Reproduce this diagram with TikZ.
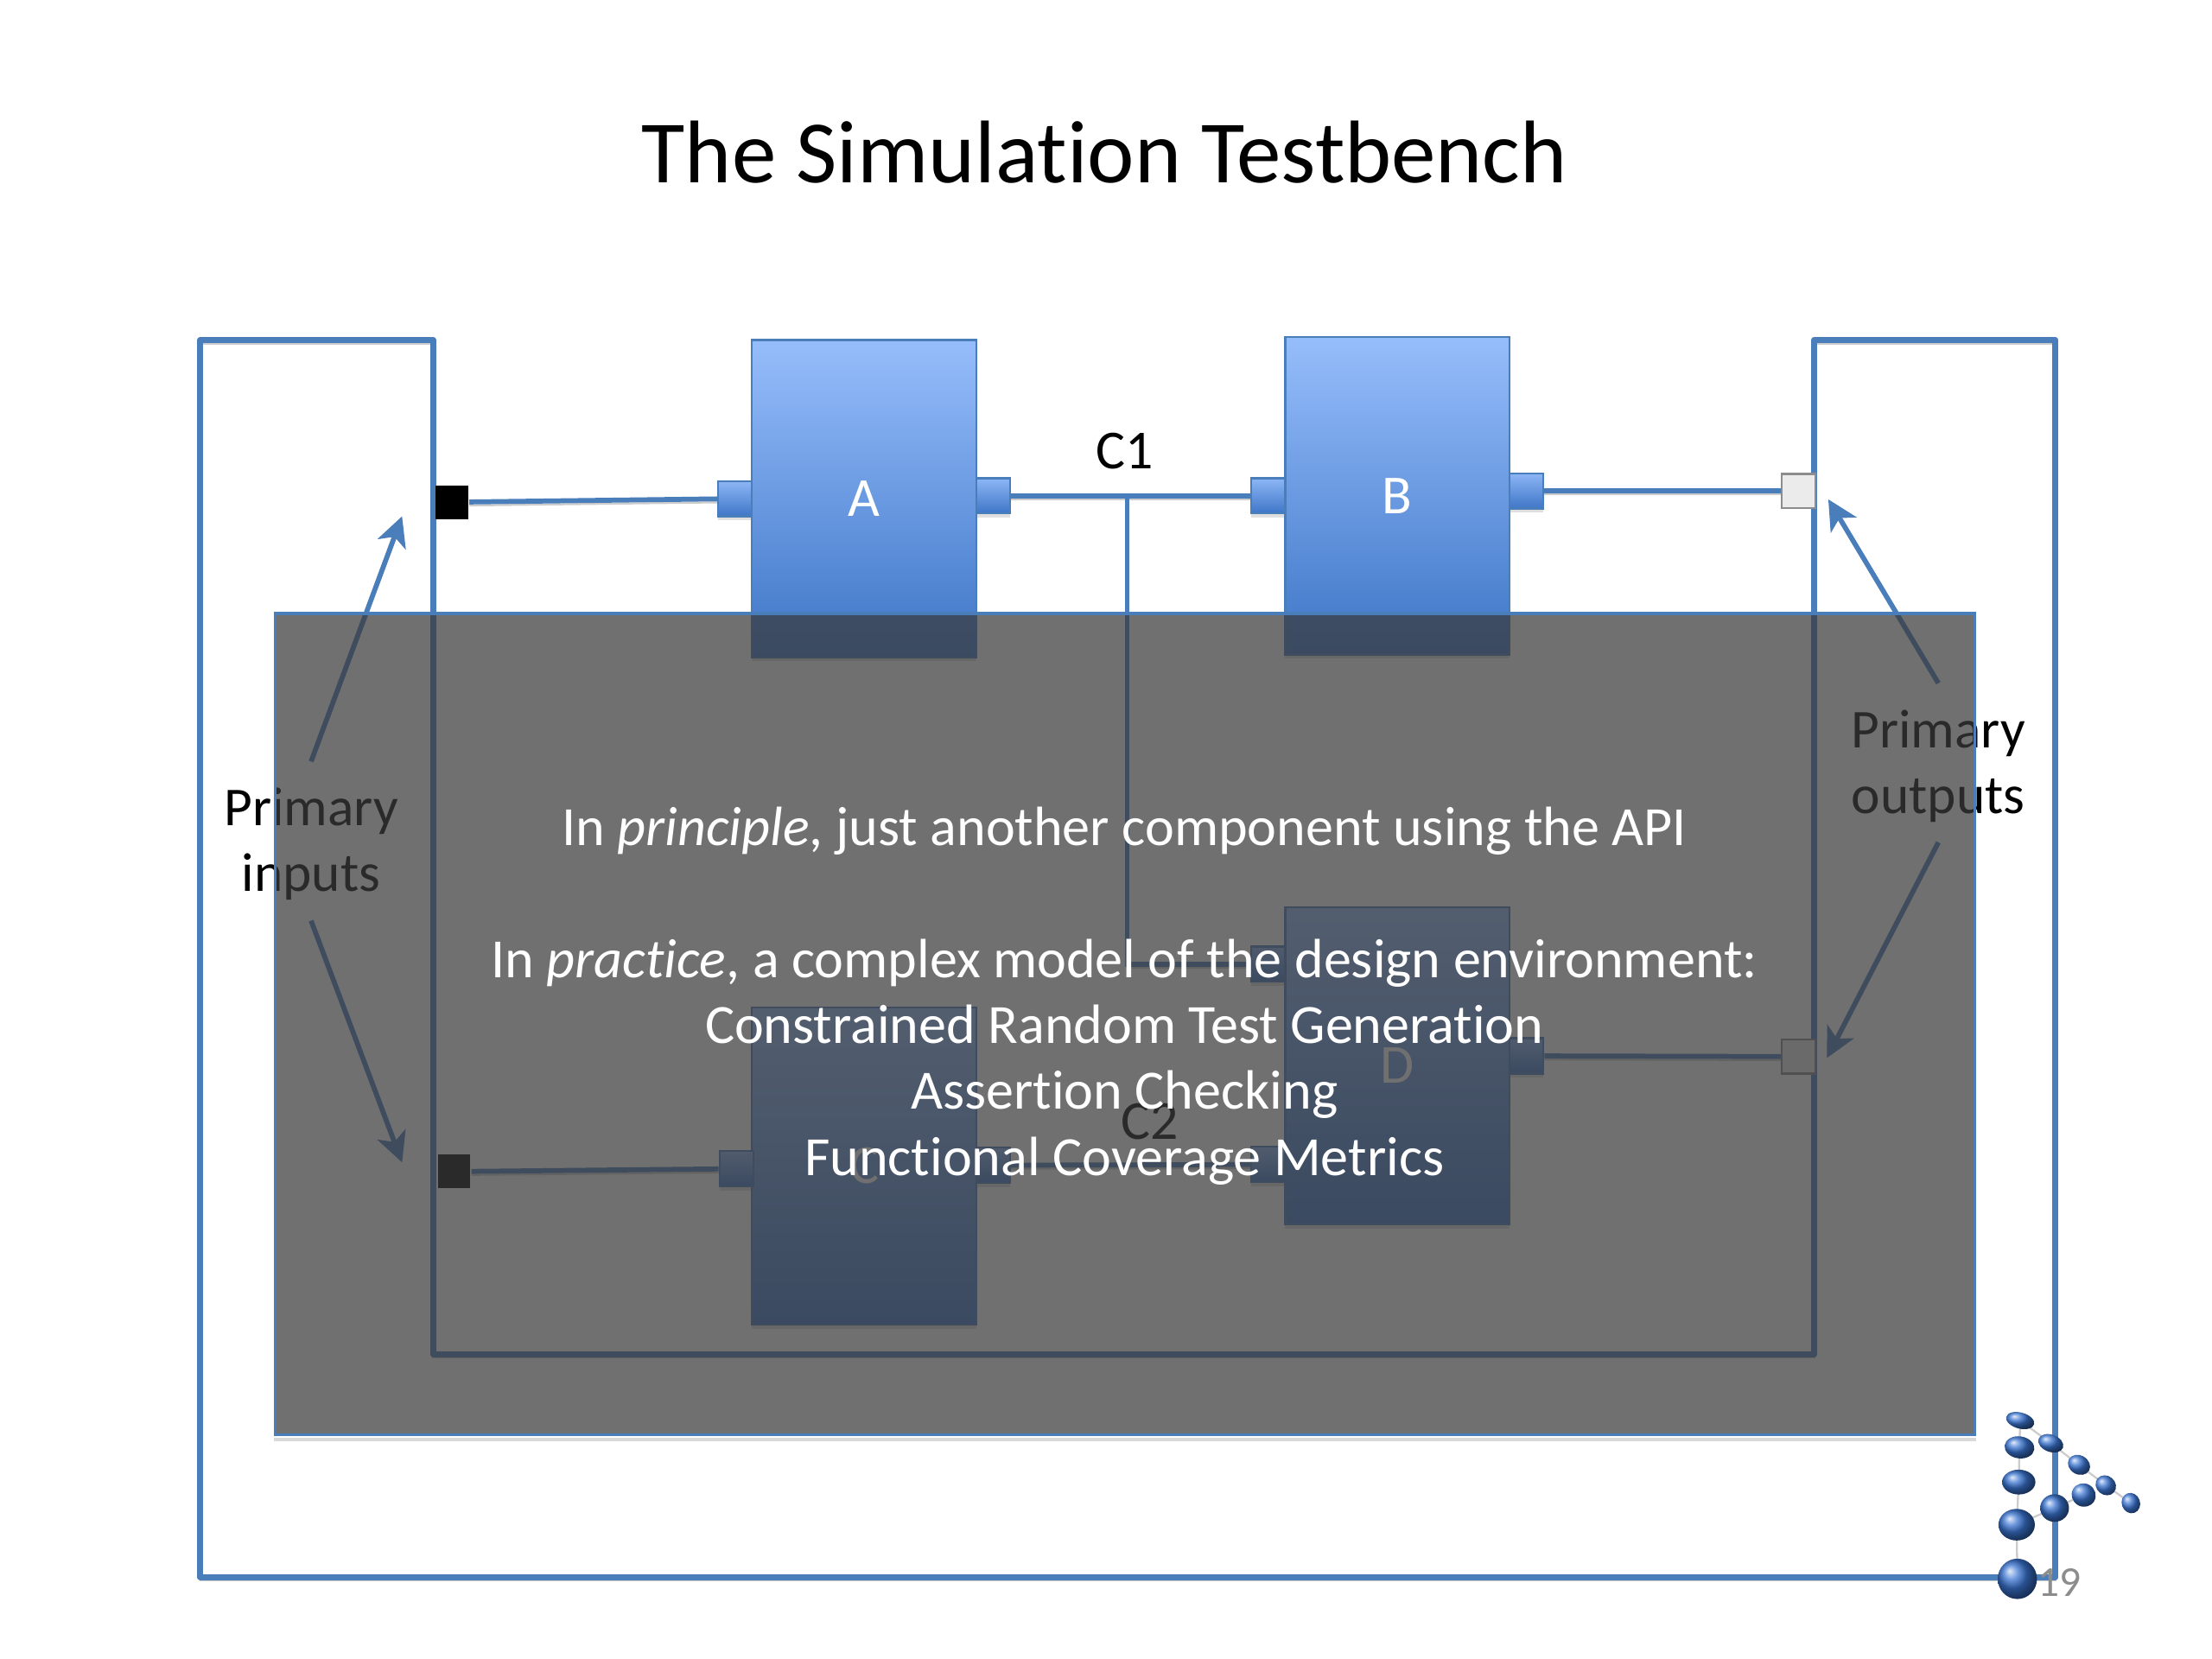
\documentclass[tikz,border=0pt]{standalone}
\usepackage{fontspec}
\setmainfont{Carlito}[Ligatures=NoCommon]
\usepackage{xcolor}
\usetikzlibrary{positioning, arrows.meta, shapes.geometric, shadows}

\definecolor{railblue}{HTML}{4A7EBB}
\definecolor{blocktop}{HTML}{96BDFB}
\definecolor{blockbot}{HTML}{3E76C7}
\definecolor{veilgray}{HTML}{3A3A3A}
\definecolor{logoblue}{HTML}{3A74D0}

\tikzset{
    rail/.style={draw=railblue, line width=1.2pt, line join=round,
        preaction={draw=black!20, transform canvas={yshift=-0.7pt}}},
    wire/.style={draw=railblue, line width=1pt,
        preaction={draw=black!20, transform canvas={yshift=-0.7pt}}},
    arrowline/.style={draw=railblue, line width=1pt, -{Stealth[length=6pt,width=6pt,inset=1.6pt]}},
    block/.style={rectangle, draw=railblue, line width=0.4pt, top color=blocktop, bottom color=blockbot,
        minimum width=1.59cm, minimum height=2.25cm, inner sep=0pt, text=white, font=\fontsize{11.1}{13.3}\selectfont,
        drop shadow={shadow xshift=0pt, shadow yshift=-0.8pt, opacity=0.25}},
    port/.style={rectangle, draw=railblue, line width=0.4pt, top color=blocktop!90!blockbot, bottom color=blockbot,
        minimum width=0.24cm, minimum height=0.25cm, inner sep=0pt,
        drop shadow={shadow xshift=0pt, shadow yshift=-0.8pt, opacity=0.25}},
    pinblack/.style={rectangle, fill=black, minimum width=0.23cm, minimum height=0.24cm, inner sep=0pt},
    pinlight/.style={rectangle, draw=black!45, line width=0.4pt, fill=black!8, minimum width=0.24cm, minimum height=0.24cm, inner sep=0pt},
    caption/.style={align=center, inner sep=0pt, minimum height=1.16cm, font=\fontsize{11.05}{13.3}\selectfont},
    wirelabel/.style={inner sep=0pt, font=\fontsize{11.1}{13.3}\selectfont},
    veil/.style={rectangle, draw=railblue, line width=0.6pt, fill=veilgray, fill opacity=0.724,
        minimum width=12.05cm, minimum height=5.82cm, inner sep=0pt},
    logoball/.style={ellipse, inner sep=0pt, shading=ball, ball color=logoblue},
}

\begin{document}
\begin{tikzpicture}
    \useasboundingbox (0,0) rectangle (15.68,11.76);

    % Title
    \node[inner sep=0pt, font=\fontsize{17.95}{22}\selectfont] (title) at (7.83,10.68) {The Simulation Testbench};

    % Testbench frame
    \draw[rail] (3.07,9.35) -- (1.42,9.35) -- (1.42,0.58) -- (14.57,0.58) -- (14.57,9.35) -- (12.86,9.35) -- (12.86,2.16) -- (3.07,2.16) -- cycle;

    % Blocks
    \node[block] (A) at (6.125,8.225) {A};
    \node[block] (B) at (9.905,8.245) {B};
    \node[block] (C) at (6.125,3.495) {C};
    \node[block] (D) at (9.905,4.205) {D};

    % Ports on the blocks
    \node[port] (Ain) at (5.21,8.225) {};
    \node[port] (Aout) at (7.04,8.245) {};
    \node[port] (Bin) at (8.99,8.245) {};
    \node[port] (Bout) at (10.82,8.28) {};
    \node[port] (Cin) at (5.22,3.475) {};
    \node[port] (Cout) at (7.04,3.50) {};
    \node[port] (Dina) at (8.99,4.925) {};
    \node[port] (Dinb) at (8.99,3.505) {};
    \node[port] (Dout) at (10.82,4.275) {};

    % Pins on the frame
    \node[pinblack] (pinA) at (3.205,8.20) {};
    \node[pinblack] (pinC) at (3.22,3.455) {};
    \node[pinlight] (pinB) at (12.75,8.28) {};
    \node[pinlight] (pinD) at (12.75,4.27) {};

    % Wires
    \draw[wire] (pinA) -- (Ain);
    \draw[wire] (Aout) -- (Bin);
    \draw[wire] (Bout) -- (pinB);
    \draw[wire] (pinC) -- (Cin);
    \draw[wire] (Cout) -- (Dinb);
    \draw[wire] (Dout) -- (pinD);
    \coordinate (tap) at (7.99,8.245);
    \draw[wire] (tap) |- (Dina);

    \node[wirelabel] (cone) at (7.97,8.56) {C1};
    \node[wirelabel] (ctwo) at (8.15,3.81) {C2};

    % Primary inputs and outputs
    \node[caption] (inputs) at (2.205,5.775) {Primary\\inputs};
    \node[caption] (outputs) at (13.74,6.33) {Primary\\outputs};
    \coordinate (inA) at (2.85,8.10);
    \coordinate (inC) at (2.85,3.52);
    \coordinate (outB) at (12.96,8.22);
    \coordinate (outD) at (12.95,4.26);
    \draw[arrowline] (inputs.north) -- (inA);
    \draw[arrowline] ([yshift=1.3pt]inputs.south) -- (inC);
    \draw[arrowline] (outputs.north) -- (outB);
    \draw[arrowline] ([yshift=1.3pt]outputs.south) -- (outD);

    % Grey sheet over the circuit
    \node[veil] (sheet) at (7.975,4.50) {};
    \draw[black!15, line width=0.8pt] ([yshift=-0.7pt]sheet.south west) -- ([yshift=-0.7pt]sheet.south east);
    \node[align=center, inner sep=0pt, text=white, font=\fontsize{11.17}{13.3}\selectfont] (notes) at (7.97,4.70) {In \emph{principle}, just another component using the API\\ \mbox{}\\In \emph{practice}, a complex model of the design environment:\\Constrained Random Test Generation\\Assertion Checking\\Functional Coverage Metrics};

    % Logo
    \foreach \a/\ax/\ay/\b/\bx/\by in {1/14.32/1.69/2/14.315/1.50, 2/14.315/1.50/3/14.31/1.254, 3/14.31/1.254/4/14.295/0.952, 4/14.295/0.952/5/14.30/0.568, 1/14.32/1.69/6/14.537/1.529, 6/14.537/1.529/7/14.737/1.376, 7/14.737/1.376/8/14.927/1.231, 8/14.927/1.231/9/15.105/1.105, 4/14.295/0.952/10/14.564/1.07, 10/14.564/1.07/11/14.77/1.162}
        \draw[black!20, line width=0.4pt] (\ax,\ay) coordinate (link\a) -- (\bx,\by) coordinate (link\b);
    \foreach \n/\x/\y/\w/\h/\r in {1/14.32/1.69/0.204/0.114/-15, 2/14.315/1.50/0.212/0.156/-8, 3/14.31/1.254/0.236/0.176/0, 4/14.295/0.952/0.258/0.224/0, 5/14.30/0.568/0.278/0.286/0, 6/14.537/1.529/0.184/0.122/-20, 7/14.737/1.376/0.164/0.134/-30, 8/14.927/1.231/0.152/0.134/-40, 9/15.105/1.105/0.13/0.146/20, 10/14.564/1.07/0.204/0.196/0, 11/14.77/1.162/0.172/0.164/-30}
        \node[logoball, minimum width=\w cm, minimum height=\h cm, rotate=\r] (ball\n) at (\x,\y) {};

    \node[text=black!45, inner sep=0pt, font=\fontsize{8.6}{10}\selectfont] (pagenum) at (14.60,0.54) {19};
\end{tikzpicture}
\end{document}
